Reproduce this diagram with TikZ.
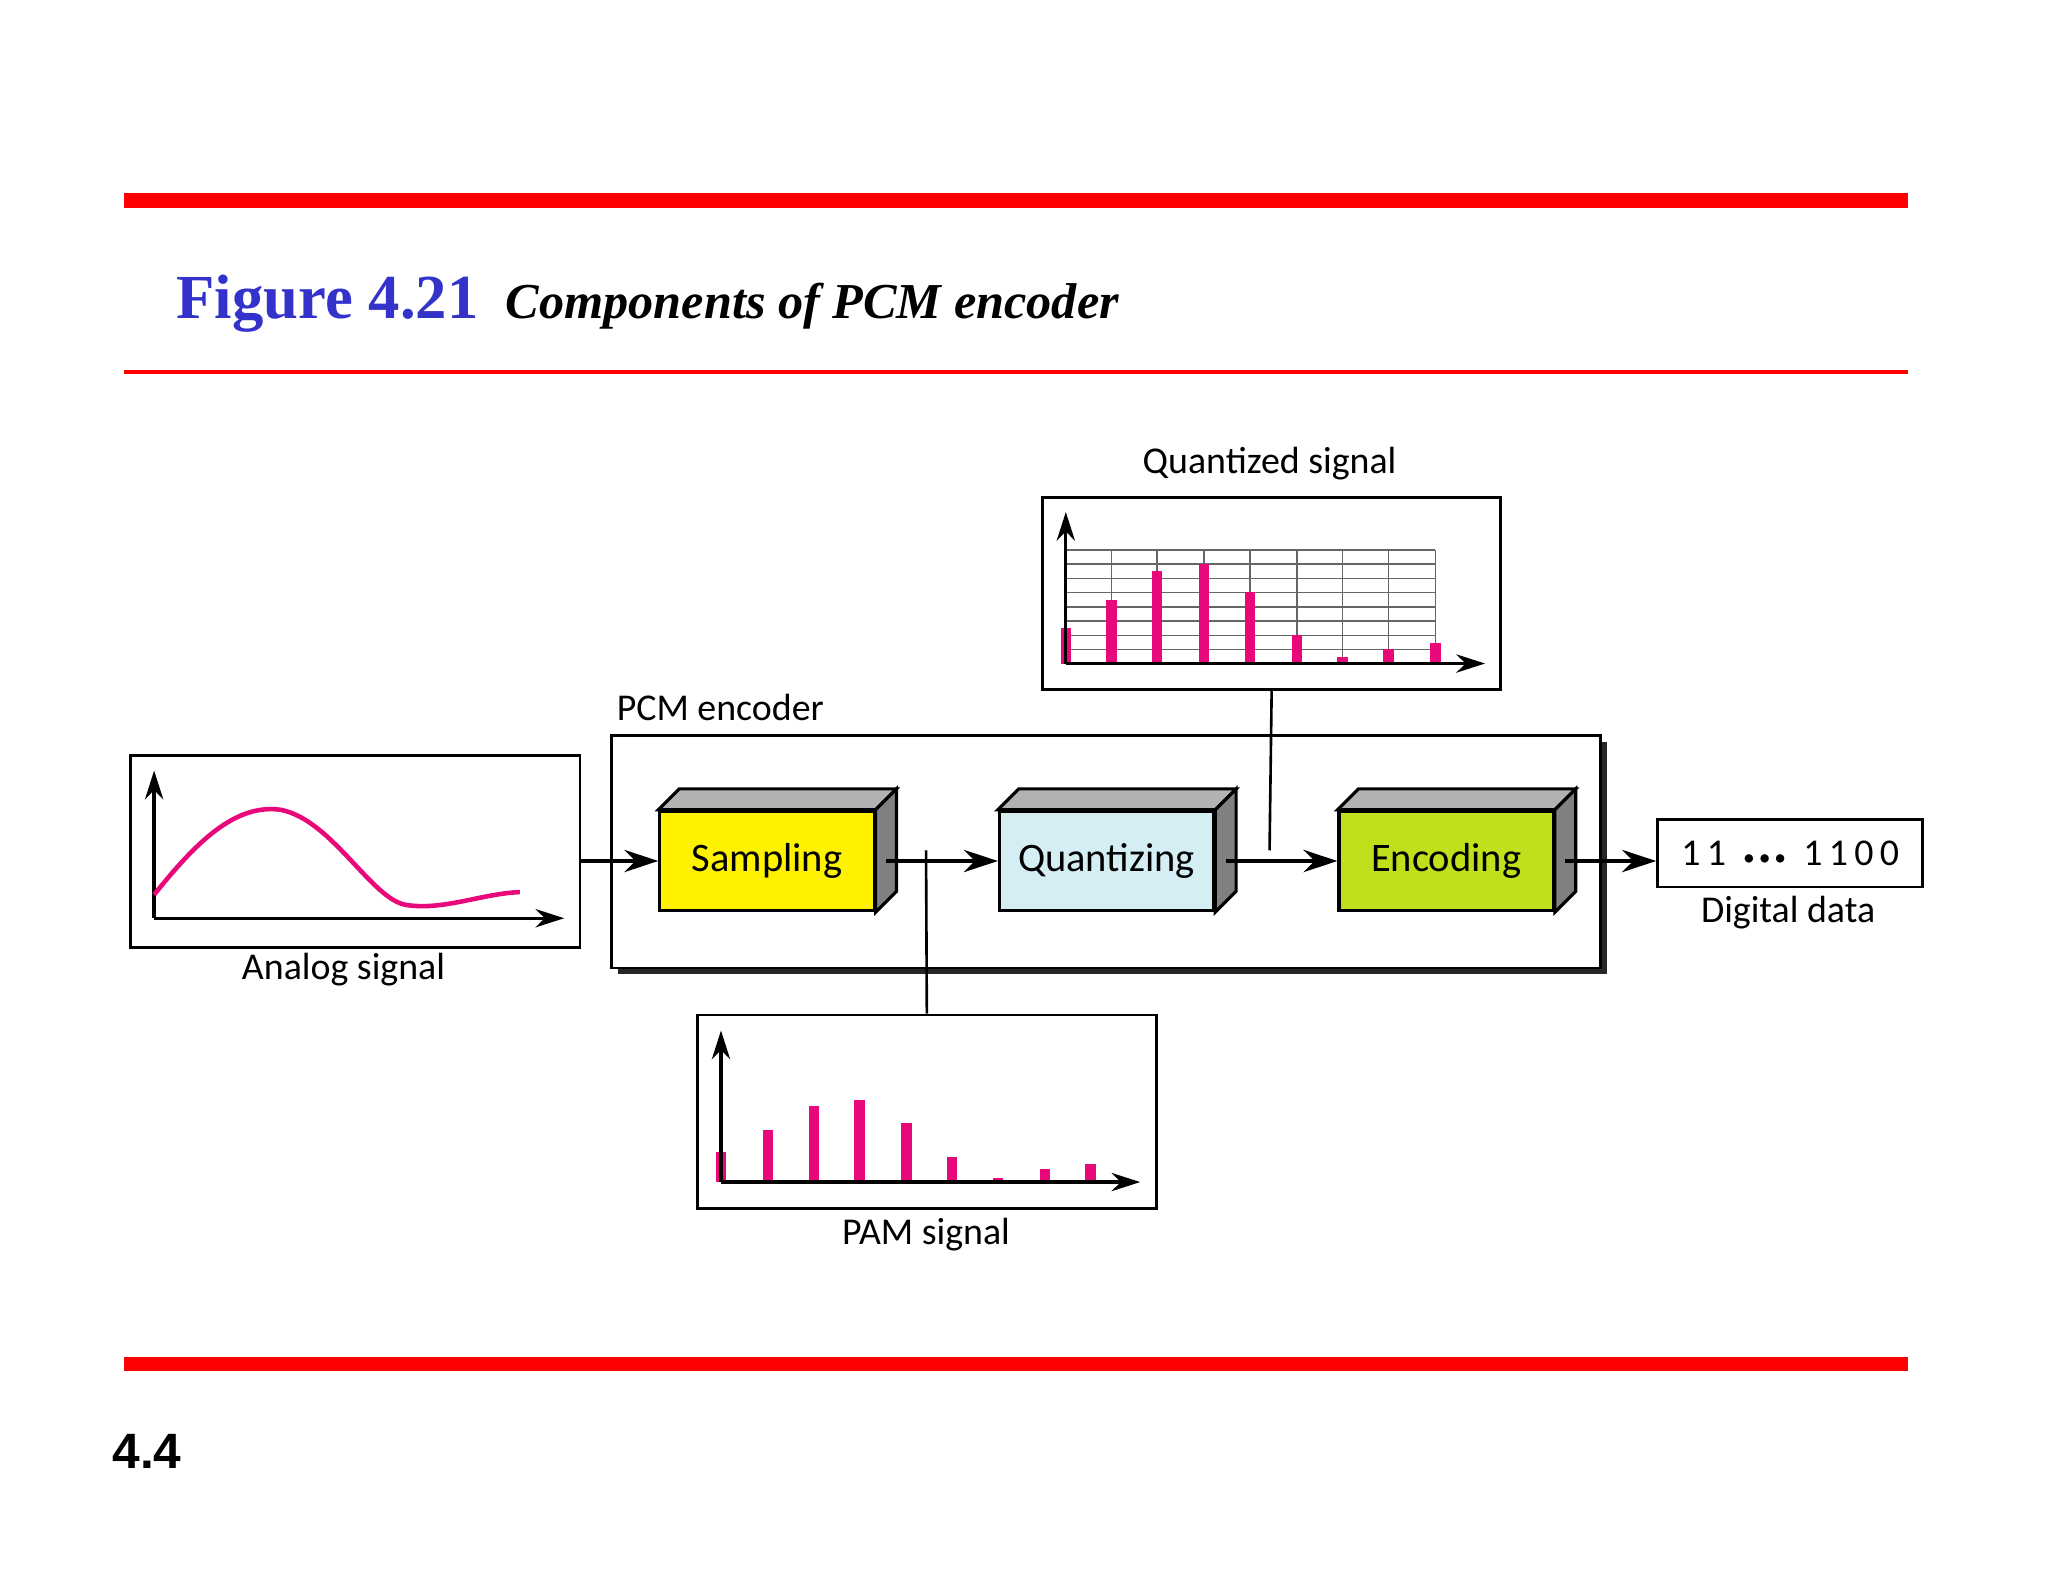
\documentclass[tikz,border=0pt]{standalone}
\usepackage{fontspec}
\setmainfont{Liberation Serif}
\newfontfamily\diagfont{Carlito}
\newfontfamily\numfont{Liberation Sans}
\usetikzlibrary{arrows.meta,calc}
\definecolor{myred}{HTML}{FF0000}
\definecolor{myblue}{HTML}{3333CC}
\definecolor{qblue}{HTML}{D4EEF4}
\definecolor{egreen}{HTML}{BFE01A}
\definecolor{bar}{HTML}{E8087A}
\begin{document}
\begin{tikzpicture}[x=1pt,y=-1pt,
  lbl/.style={font=\diagfont\fontsize{29}{30}\selectfont, inner sep=0pt},
  panel/.style={draw, line width=2.2pt, fill=white},
  blockbox/.style={draw, line width=2.4pt, minimum width=164pt, minimum height=76pt, anchor=north west, font=\diagfont\fontsize{31}{32}\selectfont},
  arr/.style={line width=2.8pt, -{Stealth[length=26pt,width=17pt]}},
  axarr/.style={line width=2.5pt, -{Stealth[length=22pt,width=14pt]}},
  conn/.style={line width=2pt},
  barst/.style={bar, line width=8pt}]
\useasboundingbox (0,0) rectangle (1568,1211);
\fill[white] (0,0) rectangle (1568,1211);
% red rules
\fill[myred] (95,148) rectangle (1461,159);
\fill[myred] (95,283) rectangle (1461,286);
\fill[myred] (95,1039) rectangle (1461,1050);
\node[anchor=base west, inner sep=0pt, text=myblue, font=\bfseries\fontsize{48}{50}\selectfont] (fig) at (135,244) {Figure 4.21};
\node[anchor=base west, inner sep=0pt, font=\bfseries\itshape\fontsize{38.5}{40}\selectfont] (cap) at (387,244) {Components of PCM encoder};
\node[anchor=base west, inner sep=0pt, font=\numfont\bfseries\fontsize{38}{40}\selectfont] (pg) at (86,1124) {4.4};

% PCM encoder box with shadow
\fill[black!85] (473,568) rectangle (1230,746);
\node[panel, minimum width=757pt, minimum height=178pt, anchor=north west, inner sep=0pt] (pcm) at (467,562) {};
\node[lbl, anchor=base west] (pcml) at (472,552) {PCM encoder};

% blocks
\foreach \n/\x/\c/\t in {samp/504/yellow/Sampling, quan/764/qblue/Quantizing, enc/1024/egreen/Encoding}{
  \node[blockbox, fill=\c] (\n) at (\x,620) {\t};
  \draw[line width=2.4pt, fill=black!30] (\n.north west) -- ++(16,-16) -- ($(\n.north east)+(16,-16)$) -- (\n.north east) -- cycle;
  \draw[line width=2.4pt, fill=black!50] (\n.north east) -- ++(16,-16) -- ($(\n.south east)+(16,-16)$) -- (\n.south east) -- cycle;
}

% analog panel
\node[panel, minimum width=344pt, minimum height=147pt, anchor=north west, inner sep=0pt] (ana) at (99,577) {};
\node[lbl] (anal) at (263,742) {Analog signal};
\coordinate (ao) at (118,703);
\draw[axarr] (ao) -- (118,590);
\draw[axarr] (ao) -- (432,703);
\draw[bar, line width=3.5pt] (118,685) .. controls (150,645) and (180,615) .. (215,620)
  .. controls (255,628) and (285,690) .. (312,693) .. controls (340,697) and (370,684) .. (398,683);

% digital data
\node[panel, minimum width=203pt, minimum height=52pt, anchor=north west, inner sep=0pt, font=\diagfont\fontsize{29}{30}\selectfont] (dig) at (1268,626) {1\,1\ \ {\fontsize{18}{20}\selectfont\textbullet\,\textbullet\,\textbullet}\ \ 1\,1\,0\,0};
\node[lbl] (digl) at (1369,699) {Digital data};

% quantized panel
\node[panel, minimum width=351pt, minimum height=147pt, anchor=north west, inner sep=0pt] (qp) at (797,380) {};
\node[lbl] (qpl) at (972,355) {Quantized signal};
\foreach \k in {0,...,7}{ \draw[black!60, line width=1.2pt] (816,{421+\k*10.9}) -- (1099,{421+\k*10.9}); }
\foreach \x in {851,886,922,957,993,1028,1063,1099}{ \draw[black!60, line width=1.2pt] (\x,421) -- (\x,508); }
\foreach \x/\h in {816/481,851/459,886/437,922/432,957/453,993/486,1028/503,1063/497,1099/492}{ \draw[barst] (\x,508) -- (\x,\h); }
\draw[axarr] (816,508) -- (816,392);
\draw[axarr] (816,508) -- (1137,508);

% PAM panel
\node[panel, minimum width=351pt, minimum height=148pt, anchor=north west, inner sep=0pt] (pam) at (533,776) {};
\node[lbl] (paml) at (709,945) {PAM signal};
\foreach \x/\h in {552/882,588/865,623/847,658/842,694/860,729/886,764/902,800/895,835/891}{ \draw[barst] (\x,905) -- (\x,\h); }
\draw[axarr] (552,905) -- (552,789);
\draw[axarr] (552,905) -- (873,905);

% connectors
\coordinate (j1) at (709,651);
\coordinate (j2) at (972,651);
\draw[arr] (ana.east |- samp.west) -- (samp.west);
\draw[arr] ($(samp.east)+(8,0)$) -- (quan.west);
\draw[arr] ($(quan.east)+(8,0)$) -- (enc.west);
\draw[arr] ($(enc.east)+(8,0)$) -- (dig.west |- enc.east);
\draw[conn] (j1) -- (pam.north);
\draw[conn] (qp.south) -- (j2);
\end{tikzpicture}
\end{document}
